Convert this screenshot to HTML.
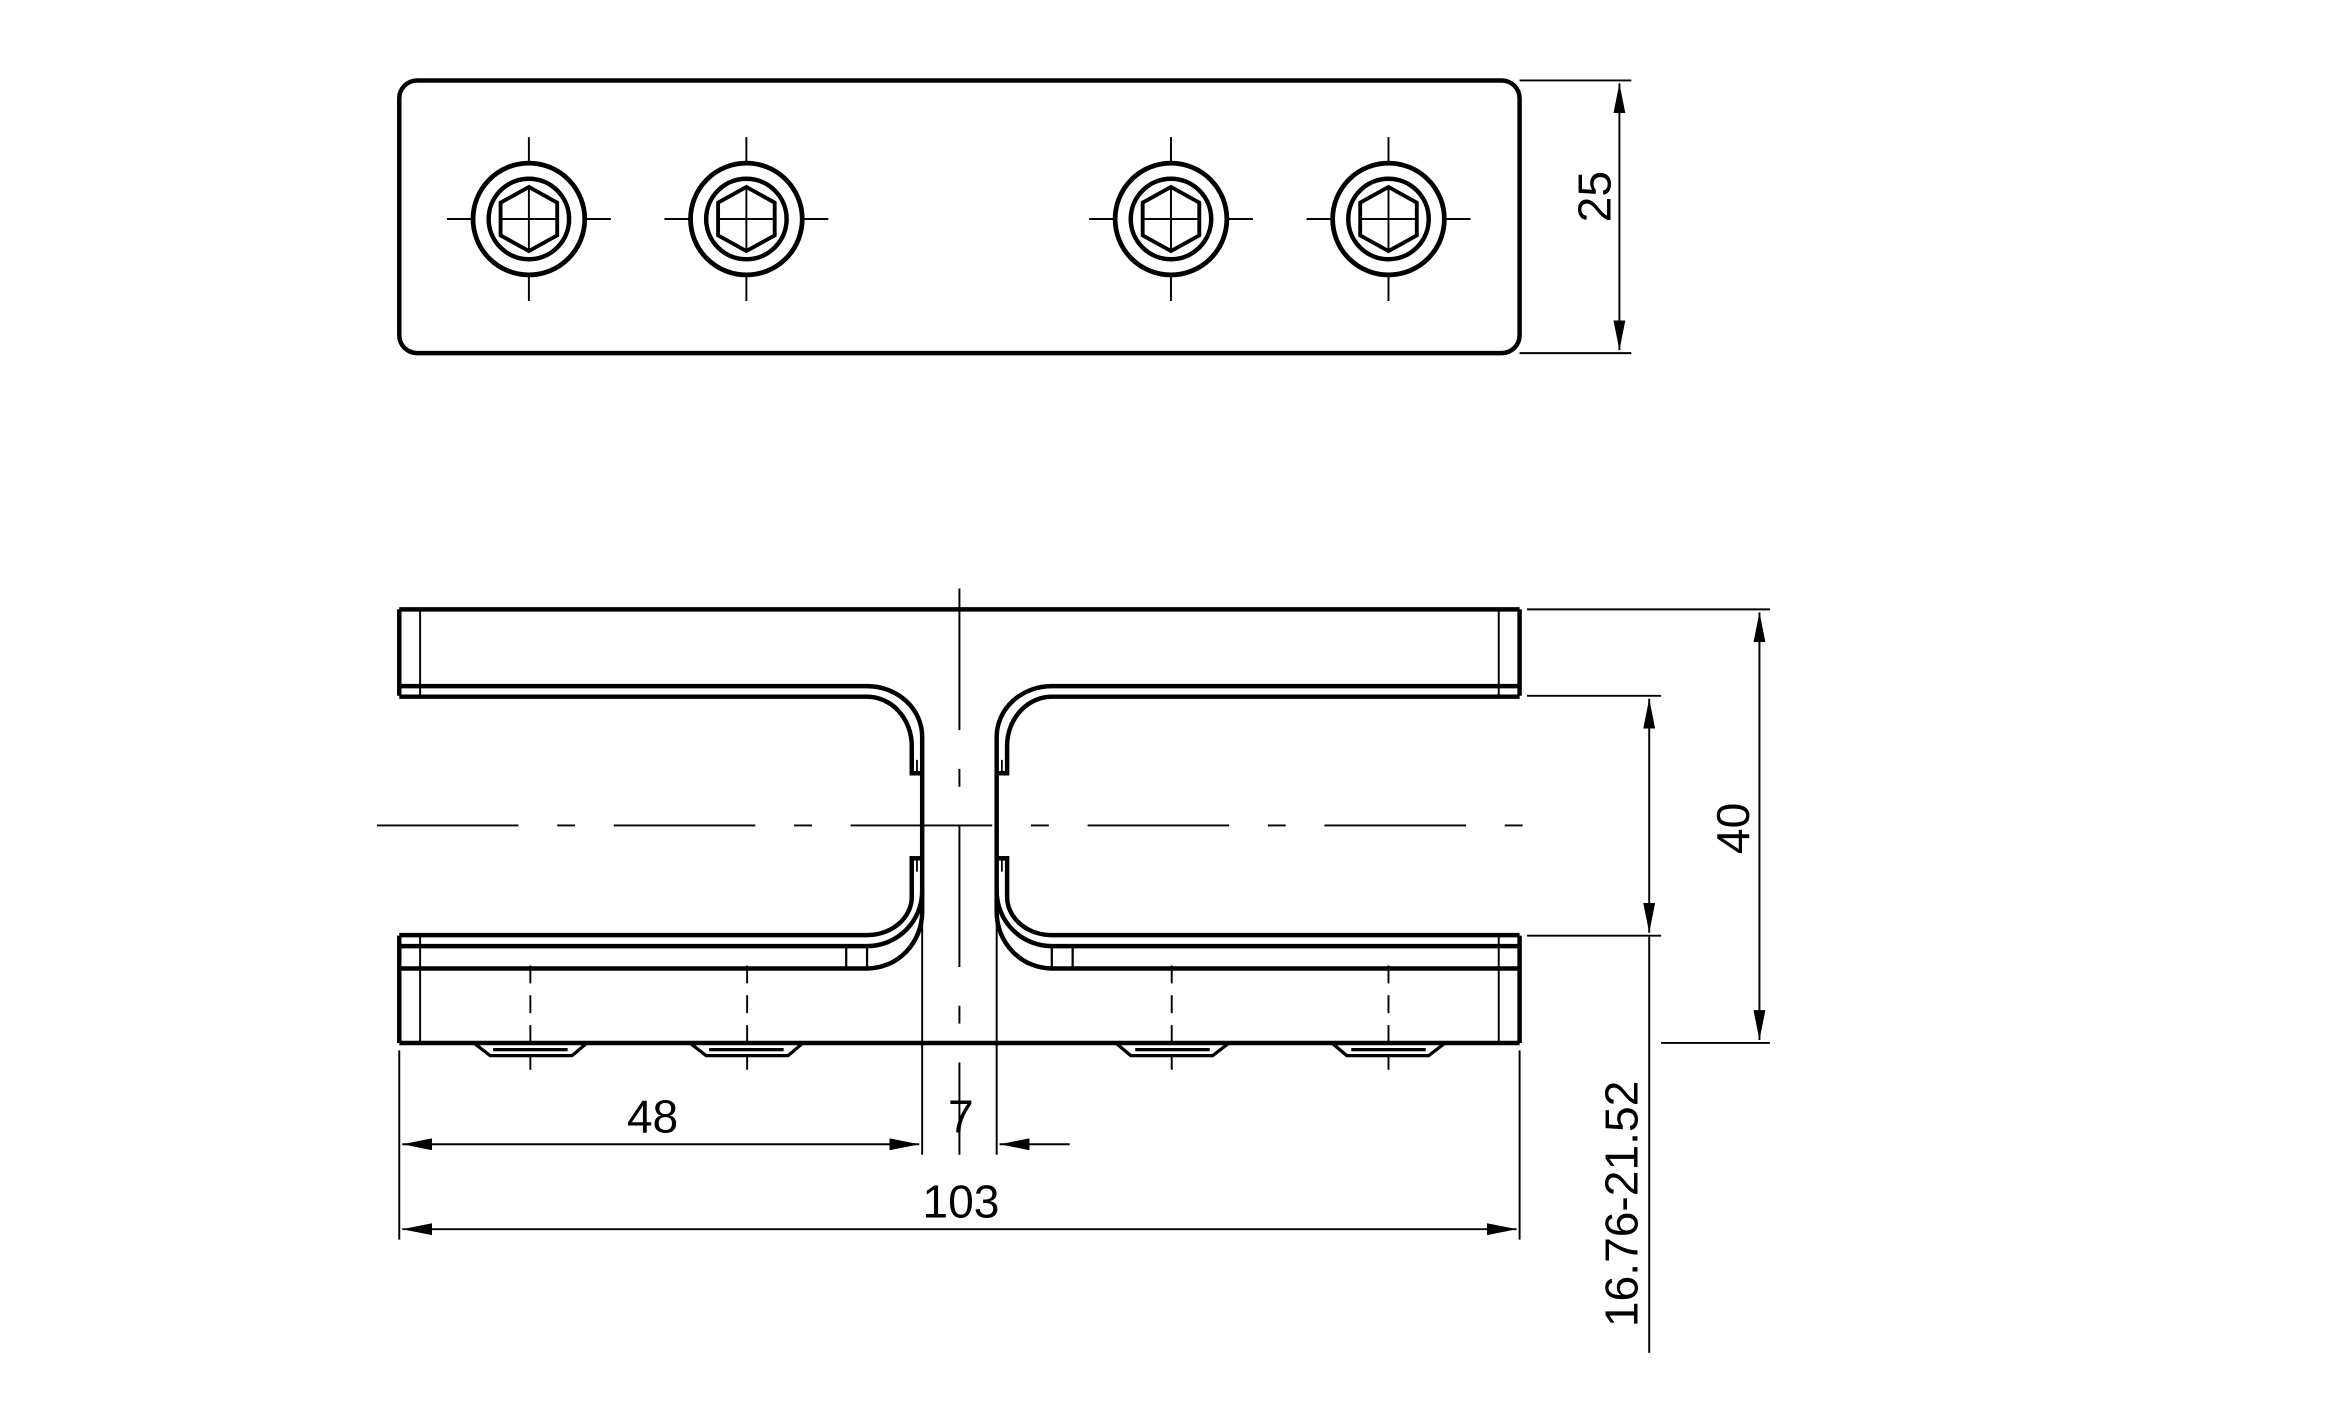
<!DOCTYPE html>
<html><head><meta charset="utf-8"><style>
html,body{margin:0;padding:0;background:#fff}
svg{display:block}
text{font-family:"Liberation Sans","DejaVu Sans",sans-serif;font-size:31px;fill:#000}
</style></head><body>
<svg width="2336" height="1408" viewBox="0 0 1568 945" preserveAspectRatio="none" xmlns="http://www.w3.org/2000/svg">
<defs>
<marker id="a" viewBox="0 0 20 8" refX="20" refY="4" markerWidth="20" markerHeight="8" markerUnits="userSpaceOnUse" orient="auto-start-reverse"><path d="M0,0 L20,4 L0,8 Z" fill="#000"/></marker>
<g id="scr">
<circle r="37.5" fill="none" stroke="#000" stroke-width="3.2"/>
<circle r="27" fill="none" stroke="#000" stroke-width="3"/>
<polygon points="0,-21.5 19,-11 19,11 0,21.5 -19,11 -19,-11" fill="none" stroke="#000" stroke-width="2.6"/>
<path d="M-55,0H-38M38,0H55M0,-55V-38M0,38V55M-19,0H19M0,-21V21" stroke="#000" stroke-width="1.3"/>
</g>
<g id="half" fill="none" stroke="#000">
<path d="M268,409V467M268,628V700" stroke-width="3"/>
<path d="M282,409V467M282,628V700" stroke-width="1.3"/>
<path d="M268,460.5H582A37,34 0 0 1 619,494.5V612A37,38 0 0 1 582,650H268" stroke-width="3"/>
<path d="M268,467.6H582A30,33 0 0 1 612,500.6V519H619M619,576H612V602A30,25.6 0 0 1 582,627.6H268" stroke-width="3"/>
<path d="M619,598A37,37 0 0 1 582,635H268" stroke-width="3"/>
<path d="M615.5,510V519M615.5,576V585" stroke-width="1.2"/>
<path d="M568,635V650M582,635V650" stroke-width="1.5"/>
<path d="M318,700L329,708.5H384L394,700M331,704.5H381" stroke-width="2.2"/>
<path d="M463,700L474,708.5H529L539,700M476,704.5H526" stroke-width="2.2"/>
<path d="M356,648V718M501.5,648V718" stroke-width="1.3" stroke-dasharray="12 8"/>
</g>
</defs>

<rect x="268" y="54" width="752" height="183" rx="12" fill="none" stroke="#000" stroke-width="3"/>
<use href="#scr" x="355" y="147"/>
<use href="#scr" x="501" y="147"/>
<use href="#scr" x="786" y="147"/>
<use href="#scr" x="932" y="147"/>

<!-- front view -->
<path d="M268,409H1020M268,700H1020" stroke="#000" stroke-width="3"/>
<use href="#half"/>
<use href="#half" transform="translate(1288,0) scale(-1,1)"/>
<path d="M253,554H1036" stroke="#000" stroke-width="1.3" stroke-dasharray="95 26 12 26"/>
<path d="M644,395V775" stroke="#000" stroke-width="1.3" stroke-dasharray="95 26 12 26"/>

<!-- dims -->
<g stroke="#000" stroke-width="1.3" fill="none">
<path d="M1020,54H1095M1020,237H1095"/>
<path d="M1087,56V235" marker-start="url(#a)" marker-end="url(#a)"/>
<path d="M1025,409H1188M1115,700H1188M1025,467H1115M1025,628H1115"/>
<path d="M1181,411V698" marker-start="url(#a)" marker-end="url(#a)"/>
<path d="M1107,469V626" marker-start="url(#a)" marker-end="url(#a)"/>
<path d="M1107,628V908"/>
<path d="M268,705V832M1020,705V832M619,612V775M669,612V775"/>
<path d="M270,768H617" marker-start="url(#a)" marker-end="url(#a)"/>
<path d="M718,768H671" marker-end="url(#a)"/>
<path d="M270,825H1018" marker-start="url(#a)" marker-end="url(#a)"/>
</g>
<text x="438" y="760" text-anchor="middle">48</text>
<text x="645" y="760" text-anchor="middle">7</text>
<text x="645" y="817" text-anchor="middle">103</text>
<text transform="translate(1081,132) rotate(-90)" text-anchor="middle">25</text>
<text transform="translate(1174,556) rotate(-90)" text-anchor="middle">40</text>
<text transform="translate(1099,808) rotate(-90)" text-anchor="middle">16.76-21.52</text>
</svg>
</body></html>
